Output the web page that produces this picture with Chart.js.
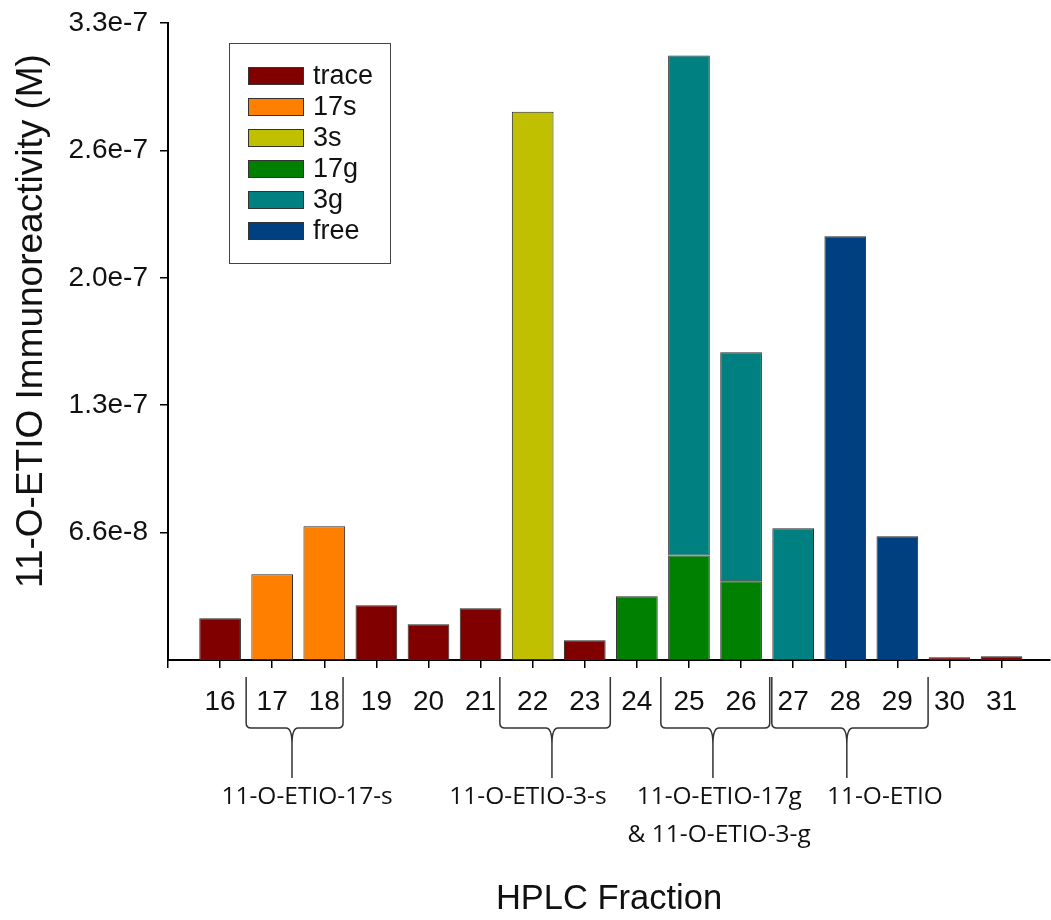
<!DOCTYPE html>
<html>
<head>
<meta charset="utf-8">
<script src="https://cdn.jsdelivr.net/npm/chart.js@4.4.1/dist/chart.umd.min.js"></script>
<style>
body { margin: 0; background: #fff; }
</style>
</head>
<body>
<canvas id="chart" width="1051" height="920"></canvas>
<script>
// HPLC fractions and immunoreactivity (M) per conjugate type
var fractions = [16, 17, 18, 19, 20, 21, 22, 23, 24, 25, 26, 27, 28, 29, 30, 31];
var trace = [2.16e-8, null, null, 2.83e-8, 1.85e-8, 2.68e-8, null, 1.02e-8, null, null, null, null, null, null, 1.4e-9, 1.9e-9];
var s17   = [null, 4.44e-8, 6.93e-8, null, null, null, null, null, null, null, null, null, null, null, null, null];
var s3    = [null, null, null, null, null, null, 2.84e-7, null, null, null, null, null, null, null, null, null];
var g17   = [null, null, null, null, null, null, null, null, 3.30e-8, 5.42e-8, 4.08e-8, null, null, null, null, null];
var g3    = [null, null, null, null, null, null, null, null, null, 2.59e-7, 1.186e-7, 6.82e-8, null, null, null, null];
var free  = [null, null, null, null, null, null, null, null, null, null, null, null, 2.195e-7, 6.41e-8, null, null];

var yTickValues = [6.6e-8, 1.32e-7, 1.98e-7, 2.64e-7, 3.3e-7];
var yTickLabels = ['6.6e-8', '1.3e-7', '2.0e-7', '2.6e-7', '3.3e-7'];
var yTitle = '11-O-ETIO Immunoreactivity (M)';

// fraction groups marked with brackets under the axis
var groupLabels = [['11-O-ETIO-17-s'], ['11-O-ETIO-3-s'], ['11-O-ETIO-17g', '& 11-O-ETIO-3-g'], ['11-O-ETIO']];
var groupFrom  = [16.5, 21.37, 24.46, 26.59];
var groupTo    = [18.36, 23.49, 26.55, 29.59];
var groupStem  = [17.38, 22.37, 25.46, 28.03];
var groupText  = [17.67, 21.91, 25.58, 28.76];

var sans = '"Liberation Sans", Arial, sans-serif';

function points(vals) {
	var out = [];
	for (var i = 0; i < fractions.length; i++) {
		if (vals[i] !== null) out.push({x: fractions[i], y: vals[i]});
	}
	return out;
}

function ds(label, vals, color) {
	return {
		label: label,
		data: points(vals),
		backgroundColor: color,
		borderColor: '#2a2a2a',
		borderWidth: 1,
		borderSkipped: false,
		categoryPercentage: 0.8,
		barPercentage: 1.0
	};
}

var legendBox = {
	id: 'legendBox',
	afterDatasetsDraw: function(chart) {
		var ctx = chart.ctx;
		var a = chart.chartArea;
		var x0 = a.left + 61, y0 = a.top + 20;
		ctx.save();
		ctx.strokeStyle = '#444';
		ctx.lineWidth = 1;
		ctx.strokeRect(x0 + 0.5, y0 + 0.5, 161, 220);
		ctx.font = '27px ' + sans;
		ctx.textBaseline = 'middle';
		chart.data.datasets.forEach(function(d, i) {
			var cy = y0 + 33 + i * 31;
			ctx.fillStyle = d.backgroundColor;
			ctx.fillRect(x0 + 19, cy - 9, 56, 18);
			ctx.strokeStyle = '#333';
			ctx.strokeRect(x0 + 19.5, cy - 8.5, 55, 17);
			ctx.fillStyle = '#111';
			ctx.fillText(d.label, x0 + 84, cy + 1);
		});
		ctx.restore();
	}
};

var extras = {
	id: 'extras',
	afterDraw: function(chart) {
		var ctx = chart.ctx;
		var xs = chart.scales.x;
		var top = 677, bot = 728, tipEnd = 778, r = 5;
		ctx.save();

		// y axis title
		ctx.save();
		ctx.translate(32, 321);
		ctx.rotate(-Math.PI / 2);
		ctx.fillStyle = '#111';
		ctx.font = '37px ' + sans;
		ctx.textAlign = 'center';
		ctx.textBaseline = 'middle';
		ctx.fillText(yTitle, 0, 0);
		ctx.restore();

		ctx.strokeStyle = '#333';
		ctx.lineWidth = 1.5;
		for (var i = 0; i < groupLabels.length; i++) {
			var xl = xs.getPixelForValue(groupFrom[i]);
			var xr = xs.getPixelForValue(groupTo[i]);
			var xm = xs.getPixelForValue(groupStem[i]);
			ctx.beginPath();
			ctx.moveTo(xl, top);
			ctx.lineTo(xl, bot - r);
			ctx.quadraticCurveTo(xl, bot, xl + r, bot);
			ctx.lineTo(xm - 6, bot);
			ctx.quadraticCurveTo(xm, bot, xm, bot + 16);
			ctx.lineTo(xm, tipEnd);
			ctx.moveTo(xr, top);
			ctx.lineTo(xr, bot - r);
			ctx.quadraticCurveTo(xr, bot, xr - r, bot);
			ctx.lineTo(xm + 6, bot);
			ctx.quadraticCurveTo(xm, bot, xm, bot + 16);
			ctx.stroke();

			ctx.fillStyle = '#111';
			ctx.font = '24.5px "Open Sans", sans-serif';
			ctx.textAlign = 'center';
			ctx.textBaseline = 'middle';
			var tx = xs.getPixelForValue(groupText[i]);
			for (var j = 0; j < groupLabels[i].length; j++) {
				ctx.fillText(groupLabels[i][j], tx, 797 + j * 38);
			}
		}
		ctx.restore();
	}
};

var ctx = document.getElementById('chart').getContext('2d');
var chart = new Chart(ctx, {
	type: 'bar',
	data: {
		datasets: [
			ds('trace', trace, '#800000'),
			ds('17s', s17, '#ff8000'),
			ds('3s', s3, '#c0c000'),
			ds('17g', g17, '#008000'),
			ds('3g', g3, '#008080'),
			ds('free', free, '#004080')
		]
	},
	options: {
		responsive: false,
		animation: false,
		layout: { padding: { top: 23, right: 1, left: 0, bottom: 0 } },
		plugins: {
			legend: { display: false },
			tooltip: { enabled: false }
		},
		scales: {
			x: {
				type: 'linear',
				stacked: true,
				min: 15,
				max: 31.93,
				offset: false,
				afterBuildTicks: function(scale) {
					var t = [{value: 15}];
					fractions.forEach(function(f) { t.push({value: f}); });
					scale.ticks = t;
				},
				afterFit: function(scale) {
					scale.height = 260;
					scale.paddingLeft = 0;
					scale.paddingRight = 0;
				},
				ticks: {
					color: '#111',
					font: { family: sans, size: 28 },
					padding: 17,
					maxRotation: 0,
					autoSkip: false,
					callback: function(v) { return v === 15 ? '' : String(v); }
				},
				grid: { drawOnChartArea: false, drawTicks: true, tickLength: 8, color: '#000', lineWidth: 1.5, offset: false },
				border: { color: '#000', width: 2 },
				title: {
					display: true,
					text: 'HPLC Fraction',
					color: '#111',
					font: { family: sans, size: 34.5 },
					padding: { top: 0, bottom: 0 }
				}
			},
			y: {
				stacked: true,
				min: 0,
				max: 3.3e-7,
				afterBuildTicks: function(scale) {
					scale.ticks = yTickValues.map(function(v) { return {value: v}; });
				},
				afterFit: function(scale) {
					scale.width = 168;
					scale.paddingTop = 0;
					scale.paddingBottom = 0;
				},
				ticks: {
					color: '#111',
					font: { family: sans, size: 28 },
					padding: 12,
					callback: function(v, i) { return yTickLabels[i]; }
				},
				grid: { drawOnChartArea: false, drawTicks: true, tickLength: 8, color: '#000', lineWidth: 1.5 },
				border: { color: '#000', width: 2 }
			}
		}
	},
	plugins: [legendBox, extras]
});
</script>
</body>
</html>
